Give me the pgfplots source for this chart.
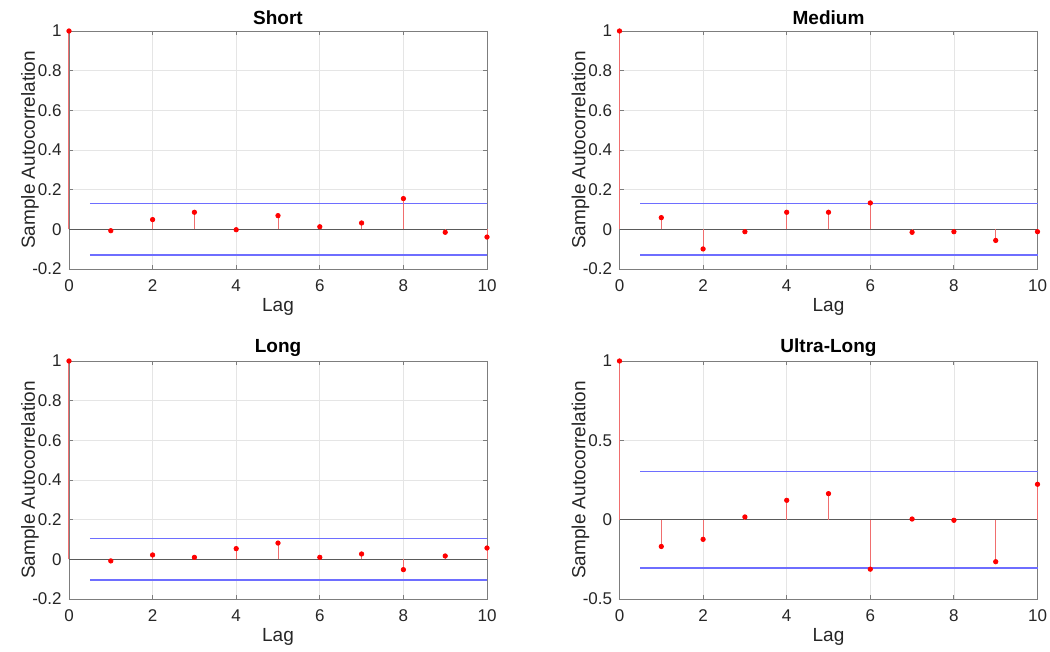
\documentclass[border=0pt]{standalone}
\usepackage{fontspec}
\setmainfont{Liberation Sans}
\usepackage{pgfplots}
\usepackage{pgfplotstable}
\pgfplotsset{compat=1.18}
\definecolor{axgray}{RGB}{125,125,125}
\definecolor{stemred}{RGB}{240,110,110}
\definecolor{bndblue}{RGB}{110,110,255}
\definecolor{zerogray}{RGB}{90,90,90}

\pgfplotstableread{
lag acf
0 1
1 -0.007
2 0.049
3 0.086
4 -0.002
5 0.069
6 0.013
7 0.032
8 0.155
9 -0.015
10 -0.039
}\shortdata
\pgfplotstableread{
lag acf
0 1
1 0.059
2 -0.099
3 -0.012
4 0.086
5 0.086
6 0.133
7 -0.015
8 -0.012
9 -0.056
10 -0.012
}\mediumdata
\pgfplotstableread{
lag acf
0 1
1 -0.008
2 0.022
3 0.010
4 0.054
5 0.082
6 0.010
7 0.027
8 -0.052
9 0.017
10 0.057
}\longdata
\pgfplotstableread{
lag acf
0 1
1 -0.169
2 -0.124
3 0.017
4 0.122
5 0.164
6 -0.312
7 0.004
8 -0.004
9 -0.265
10 0.223
}\ultradata

\pgfplotsset{acf/.style={
  scale only axis, width=209pt, height=119pt,
  xmin=0, xmax=10, xtick={0,2,...,10}, xticklabels={0,2,4,6,8,10},
  clip=false,
  axis line style={axgray, line width=0.45pt},
  tick style={axgray, line width=0.45pt},
  major tick length=2pt, tick align=inside,
  grid=major, major grid style={black!10, line width=0.4pt},
  ticklabel style={font=\fontsize{8.5}{10}\selectfont, text=black!85},
  xticklabel style={anchor=center, yshift=-8.5pt},
  yticklabel style={anchor=east, inner sep=0pt, xshift=-3.5pt},
  xlabel={Lag}, ylabel={Sample Autocorrelation},
  label style={font=\fontsize{9.5}{11}\selectfont, text=black!85},
  xlabel style={at={(axis description cs:0.5,-0.16)}, anchor=center},
  ylabel style={at={(axis description cs:-0.0933,0.5)}, anchor=center},
  every axis title shift=0pt,
  title style={font=\bfseries\fontsize{9.5}{11}\selectfont, at={(axis description cs:0.5,1)}, anchor=center, yshift=6.5pt},
}}
\newcommand{\acfplots}[2]{%
  \addplot[draw=zerogray, line width=0.45pt] coordinates {(0,0) (10,0)};
  \addplot[draw=bndblue, line width=0.75pt] coordinates {(0.5,#2) (10,#2)};
  \addplot[draw=bndblue, line width=0.75pt] coordinates {(0.5,-#2) (10,-#2)};
  \addplot[ycomb, draw=stemred, line width=0.5pt] table[x=lag, y=acf] {#1};
  \addplot[only marks, mark=*, mark size=1.1pt, red, mark options={fill=red, draw=red}] table[x=lag, y=acf] {#1};
}

\begin{document}
\begin{tikzpicture}
\path[use as bounding box] (0,0) rectangle (525pt,326pt);
\begin{axis}[acf, at={(34.5pt,191.5pt)}, anchor=south west, title={Short},
  ymin=-0.2, ymax=1, ytick={-0.2,0,0.2,0.4,0.6,0.8,1}, yticklabels={-0.2,0,0.2,0.4,0.6,0.8,1}]
\acfplots{\shortdata}{0.13}
\end{axis}
\begin{axis}[acf, at={(309.75pt,191.5pt)}, anchor=south west, title={Medium},
  ymin=-0.2, ymax=1, ytick={-0.2,0,0.2,0.4,0.6,0.8,1}, yticklabels={-0.2,0,0.2,0.4,0.6,0.8,1}]
\acfplots{\mediumdata}{0.13}
\end{axis}
\begin{axis}[acf, at={(34.5pt,26.5pt)}, anchor=south west, title={Long},
  ymin=-0.2, ymax=1, ytick={-0.2,0,0.2,0.4,0.6,0.8,1}, yticklabels={-0.2,0,0.2,0.4,0.6,0.8,1}]
\acfplots{\longdata}{0.104}
\end{axis}
\begin{axis}[acf, at={(309.75pt,26.5pt)}, anchor=south west, title={Ultra-Long},
  ymin=-0.5, ymax=1, ytick={-0.5,0,0.5,1}, yticklabels={-0.5,0,0.5,1}]
\acfplots{\ultradata}{0.305}
\end{axis}
\end{tikzpicture}
\end{document}
